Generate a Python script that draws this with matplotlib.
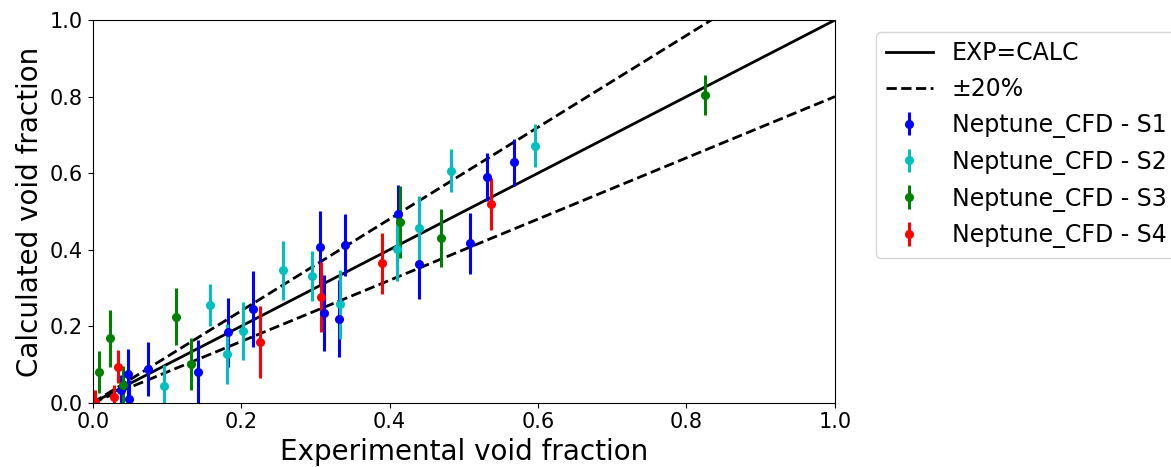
import numpy as np
from matplotlib import pyplot as plt

# values
s1_x = [0.038, 0.047, 0.049, 0.075, 0.142, 0.182, 0.216, 0.306, 0.311, 0.332, 0.340, 0.411, 0.440, 0.508, 0.531, 0.567]
s1_y = [0.033, 0.075, 0.009, 0.088, 0.079, 0.184, 0.245, 0.406, 0.234, 0.220, 0.412, 0.493, 0.362, 0.417, 0.589, 0.628]
s1_err = [0.04, 0.065, 0.05, 0.07, 0.085, 0.09, 0.10, 0.095, 0.10, 0.10, 0.08, 0.075, 0.09, 0.08, 0.063, 0.062]

s2_x = [0.0965, 0.158, 0.181, 0.202, 0.256, 0.296, 0.333, 0.4095, 0.439, 0.483, 0.596]
s2_y = [0.044, 0.255, 0.127, 0.187, 0.346, 0.331, 0.257, 0.402, 0.456, 0.606, 0.672]
s2_err = [0.055, 0.055, 0.078, 0.075, 0.077, 0.065, 0.09, 0.085, 0.083, 0.056, 0.056]

s3_x = [0.008, 0.023, 0.041, 0.112, 0.132, 0.414, 0.469, 0.825]
s3_y = [0.081, 0.168, 0.046, 0.225, 0.101, 0.473, 0.430, 0.804]
s3_err = [0.055, 0.075, 0.05, 0.075, 0.068, 0.094, 0.075, 0.052]

s4_x = [0.003, 0.028, 0.034, 0.226, 0.307, 0.390, 0.537]
s4_y = [0.003, 0.016, 0.094, 0.159, 0.277, 0.364, 0.519]
s4_err = [0.03, 0.03, 0.043, 0.094, 0.092, 0.08, 0.068]

series = [
    (s1_x, s1_y, s1_err, 'b', 'Neptune_CFD - S1'),
    (s2_x, s2_y, s2_err, 'c', 'Neptune_CFD - S2'),
    (s3_x, s3_y, s3_err, 'g', 'Neptune_CFD - S3'),
    (s4_x, s4_y, s4_err, 'r', 'Neptune_CFD - S4'),
]

fig = plt.figure(figsize=(11.71, 4.67), dpi=100)
ax = fig.add_axes([0.0792, 0.1377, 0.713 - 0.0792, 0.957 - 0.1377])

# reference lines
ref = np.array([0.0, 1.0])
ax.plot(ref, ref, 'k-', linewidth=2, label='EXP=CALC')
ax.plot(ref, 1.2 * ref, 'k--', linewidth=2, label='\u00b120%')
ax.plot(ref, 0.8 * ref, 'k--', linewidth=2)

for x, y, err, col, lab in series:
    ax.errorbar(x, y, yerr=err, fmt='o', color=col, markersize=5.5,
                elinewidth=2.2, capsize=0, label=lab)

ax.set_xlim(0, 1)
ax.set_ylim(0, 1)
ax.set_xticks(np.arange(0, 1.01, 0.2))
ax.set_yticks(np.arange(0, 1.01, 0.2))
ax.tick_params(labelsize=15)
ax.set_xlabel('Experimental void fraction', fontsize=20)
ax.set_ylabel('Calculated void fraction', fontsize=20)

ax.legend(loc='upper left', bbox_to_anchor=(1.04, 1), fontsize=17)

plt.savefig('out.png', dpi=100)
